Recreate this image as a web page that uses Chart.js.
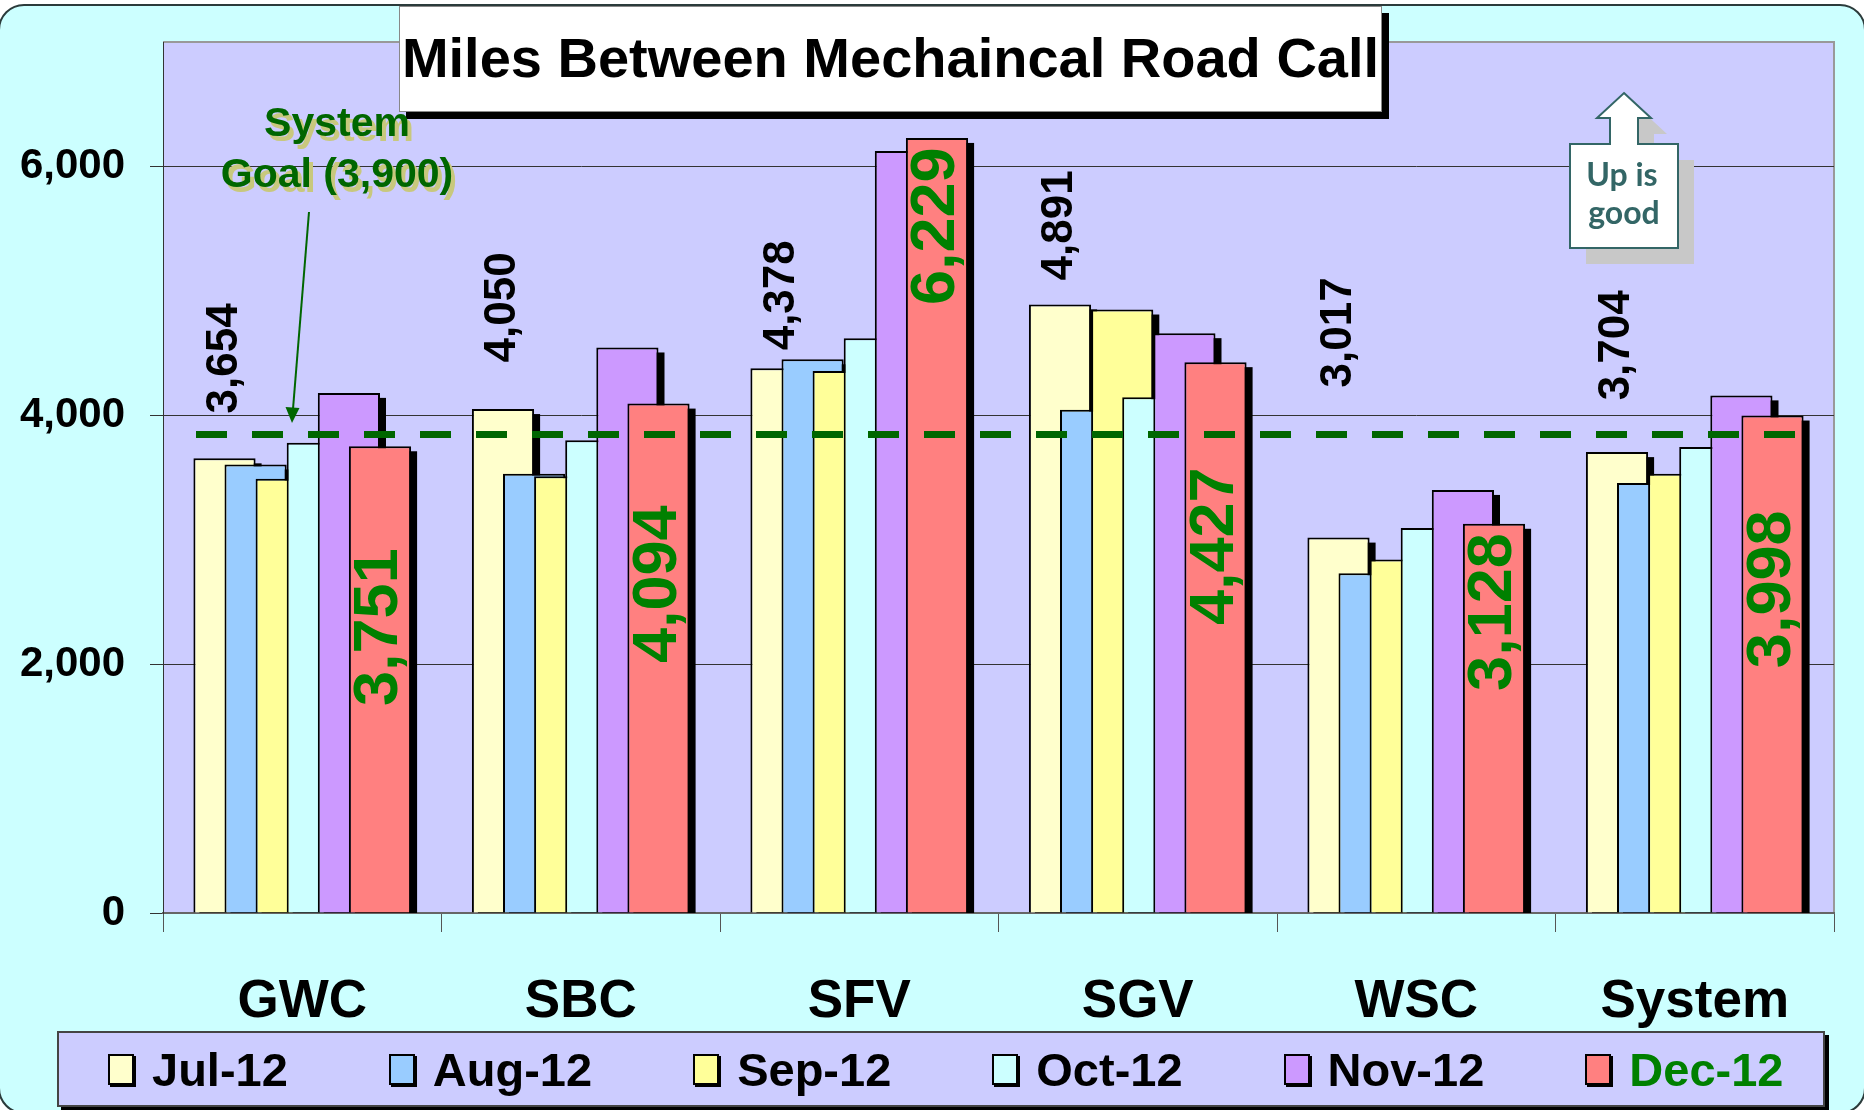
<!DOCTYPE html>
<html lang="en">
<head>
<meta charset="utf-8">
<title>Miles Between Mechaincal Road Call</title>
<script src="https://cdn.jsdelivr.net/npm/chart.js@4.4.1/dist/chart.umd.min.js"></script>
<style>
  html, body { margin: 0; padding: 0; background: #fff; }
  body { position: relative; width: 1864px; height: 1110px; overflow: hidden; font-family: "Liberation Sans", Arial, sans-serif; }
  #frame { position: absolute; left: -2px; top: 4px; width: 1868px; height: 1110px; box-sizing: border-box; background: #ccffff; border: 2px solid #2b3b3b; border-radius: 26px; }
  #chartBox { position: absolute; left: 0; top: 0; width: 1864px; height: 1110px; }
  .overlay { position: absolute; pointer-events: none; }
  #title { left: 399px; top: 6px; width: 983px; height: 106px; box-sizing: border-box; background: #fff; border: 1px solid #888; box-shadow: 7px 7px 0 #000; font-weight: bold; font-size: 56px; line-height: 102px; text-align: center; color: #000; white-space: nowrap; }
  #goalText { left: 187px; top: 97px; width: 300px; text-align: center; font-weight: bold; font-size: 41px; line-height: 51px; color: #006600; text-shadow: 4px 5px 0 #c8c87d; }
  #legend { left: 57px; top: 1031px; width: 1768px; height: 76px; box-sizing: border-box; background: #ccccff; border: 2px solid #444; box-shadow: 4px 4px 0 #000; display: flex; align-items: center; padding-left: 49px; }
  .item { display: flex; align-items: center; margin-right: 101px; font-weight: bold; font-size: 47px; white-space: nowrap; color: #000; }
  .swatch { width: 26px; height: 31px; box-sizing: border-box; border: 2px solid #000; margin-right: 18px; box-shadow: 2px 2px 0 #000; }
</style>
</head>
<body>
<div id="frame"></div>
<div id="chartBox"><canvas id="miles" width="1864" height="1110"></canvas></div>

<div id="title" class="overlay">Miles Between Mechaincal Road Call</div>
<div id="goalText" class="overlay">System<br>Goal (3,900)</div>

<svg class="overlay" style="left:0;top:0" width="1864" height="1110">
  <!-- arrow pointing at the goal line -->
  <line x1="309" y1="212" x2="293" y2="409" stroke="#006600" stroke-width="2"/>
  <polygon points="285.5,407 299.5,408 292,423" fill="#006600"/>
  <!-- "Up is good" callout -->
  <polygon transform="translate(16,16)" fill="#c8c8c8"
    points="1624,93 1651,118 1638,118 1638,144 1678,144 1678,248 1570,248 1570,144 1610,144 1610,118 1597,118"/>
  <polygon fill="#ffffff" stroke="#336666" stroke-width="2"
    points="1624,93 1651,118 1638,118 1638,144 1678,144 1678,248 1570,248 1570,144 1610,144 1610,118 1597,118"/>
  <text x="1622" y="186" text-anchor="middle" font-family="Lato, 'Open Sans', sans-serif" font-weight="bold" font-size="32" fill="#336666">Up is</text>
  <text x="1624" y="224" text-anchor="middle" font-family="Lato, 'Open Sans', sans-serif" font-weight="bold" font-size="32" fill="#336666">good</text>
</svg>

<div id="legend" class="overlay"></div>

<script>
const categories = ['GWC', 'SBC', 'SFV', 'SGV', 'WSC', 'System']
const months = ['Jul-12', 'Aug-12', 'Sep-12', 'Oct-12', 'Nov-12', 'Dec-12']

const jul12 = [3654, 4050, 4378, 4891, 3017, 3704]
const aug12 = [3605, 3530, 4450, 4045, 2730, 3455]
const sep12 = [3490, 3510, 4355, 4850, 2840, 3530]
const oct12 = [3780, 3800, 4620, 4145, 3095, 3745]
const nov12 = [4180, 4545, 6125, 4660, 3400, 4160]
const dec12 = [3751, 4094, 6229, 4427, 3128, 3998]

const yTicks = [0, 2000, 4000, 6000]
const goalLineAt = 3845

const seriesColors = ['#ffffcc', '#99ccff', '#ffff99', '#ccffff', '#cc99ff', '#ff8080']
const fontFamily = '"Liberation Sans", Arial, sans-serif'

// where the rotated value labels sit (in axis units), as placed on the slide
const julLabelAt = [4015, 4425, 4522, 5084, 4224, 4120]
const decLabelAt = [2931, 3276, 6153, 3581, 3052, 3235]

// legend
const legend = document.getElementById('legend')
months.forEach((m, i) => {
    const item = document.createElement('div')
    item.className = 'item'
    const sw = document.createElement('span')
    sw.className = 'swatch'
    sw.style.background = seriesColors[i]
    const txt = document.createElement('span')
    txt.textContent = m
    if (i === months.length - 1) txt.style.color = '#008000'
    item.appendChild(sw)
    item.appendChild(txt)
    legend.appendChild(item)
})

const plotBackground = {
    id: 'plotBackground',
    beforeDraw(chart) {
        const ctx = chart.ctx
        const a = chart.chartArea
        ctx.save()
        ctx.fillStyle = '#ccccff'
        ctx.fillRect(a.left, a.top, a.right - a.left, a.bottom - a.top)
        ctx.strokeStyle = '#999'
        ctx.lineWidth = 2
        ctx.beginPath()
        ctx.moveTo(a.left, a.top)
        ctx.lineTo(a.right, a.top)
        ctx.lineTo(a.right, a.bottom)
        ctx.stroke()
        ctx.restore()
    }
}

// later months drawn on top of earlier ones, each bar with a black drop shadow
const overlapBars = {
    id: 'overlapBars',
    beforeDatasetsDraw(chart) {
        const ctx = chart.ctx
        const a = chart.chartArea
        ctx.save()
        ctx.beginPath()
        ctx.rect(a.left, a.top, a.right - a.left, a.bottom - a.top)
        ctx.clip()
        chart.data.datasets.forEach((ds, i) => {
            const meta = chart.getDatasetMeta(i)
            ctx.fillStyle = '#000'
            meta.data.forEach((bar) => {
                const p = bar.getProps(['x', 'y', 'base', 'width'], true)
                ctx.fillRect(p.x - p.width / 2 + 6, p.y + 5, p.width, p.base - p.y)
            })
            meta.controller.draw()
        })
        ctx.restore()
        return false
    }
}

const drawLabels = (chart, dsIndex, values, anchors, align, color, size) => {
    const ctx = chart.ctx
    const y = chart.scales.y
    const meta = chart.getDatasetMeta(dsIndex)
    ctx.save()
    ctx.fillStyle = color
    ctx.font = `bold ${size}px ${fontFamily}`
    ctx.textAlign = align
    ctx.textBaseline = 'middle'
    values.forEach((v, i) => {
        const bar = meta.data[i]
        ctx.save()
        ctx.translate(bar.x, y.getPixelForValue(anchors[i]))
        ctx.rotate(-Math.PI / 2)
        ctx.fillText(v.toLocaleString('en-US'), 0, 0)
        ctx.restore()
    })
    ctx.restore()
}

const extras = {
    id: 'extras',
    afterDraw(chart) {
        const ctx = chart.ctx
        const a = chart.chartArea
        const gy = chart.scales.y.getPixelForValue(goalLineAt)
        ctx.save()
        ctx.strokeStyle = '#006600'
        ctx.lineWidth = 7
        ctx.setLineDash([31, 25])
        ctx.beginPath()
        ctx.moveTo(a.left + 33, gy)
        ctx.lineTo(a.right - 38, gy)
        ctx.stroke()
        ctx.restore()

        drawLabels(chart, 0, jul12, julLabelAt, 'left', '#000', 44)
        drawLabels(chart, 5, dec12, decLabelAt, 'right', '#008000', 63)
    }
}

const seriesData = [jul12, aug12, sep12, oct12, nov12, dec12]

new Chart('miles', {
    type: 'bar',
    data: {
        labels: categories,
        datasets: months.map((m, i) => ({
            label: m,
            data: seriesData[i],
            backgroundColor: seriesColors[i],
            borderColor: '#000',
            borderWidth: 2,
            categoryPercentage: 0.67,
            barPercentage: 2.0
        }))
    },
    options: {
        responsive: false,
        animation: false,
        devicePixelRatio: 1,
        layout: { padding: { top: 42, right: 30, left: 0, bottom: 0 } },
        plugins: {
            legend: { display: false },
            tooltip: { enabled: false }
        },
        scales: {
            x: {
                grid: { offset: true, drawOnChartArea: false, color: '#555', tickLength: 19 },
                border: { color: '#666', width: 2 },
                ticks: { font: { family: fontFamily, size: 53, weight: 'bold' }, color: '#000', padding: 39, maxRotation: 0 },
                afterFit(scale) { scale.height = 197 }
            },
            y: {
                min: 0,
                max: 7000,
                afterBuildTicks(scale) { scale.ticks = yTicks.map((v) => ({ value: v })) },
                grid: { color: '#333', tickLength: 13 },
                border: { color: '#333' },
                ticks: {
                    font: { family: fontFamily, size: 42, weight: 'bold' },
                    color: '#000',
                    padding: 25,
                    callback: (v) => v.toLocaleString('en-US')
                },
                afterFit(scale) {
                    scale.width = 163
                    scale.paddingTop = 0
                    scale.paddingBottom = 0
                }
            }
        }
    },
    plugins: [plotBackground, overlapBars, extras]
})
</script>
</body>
</html>
